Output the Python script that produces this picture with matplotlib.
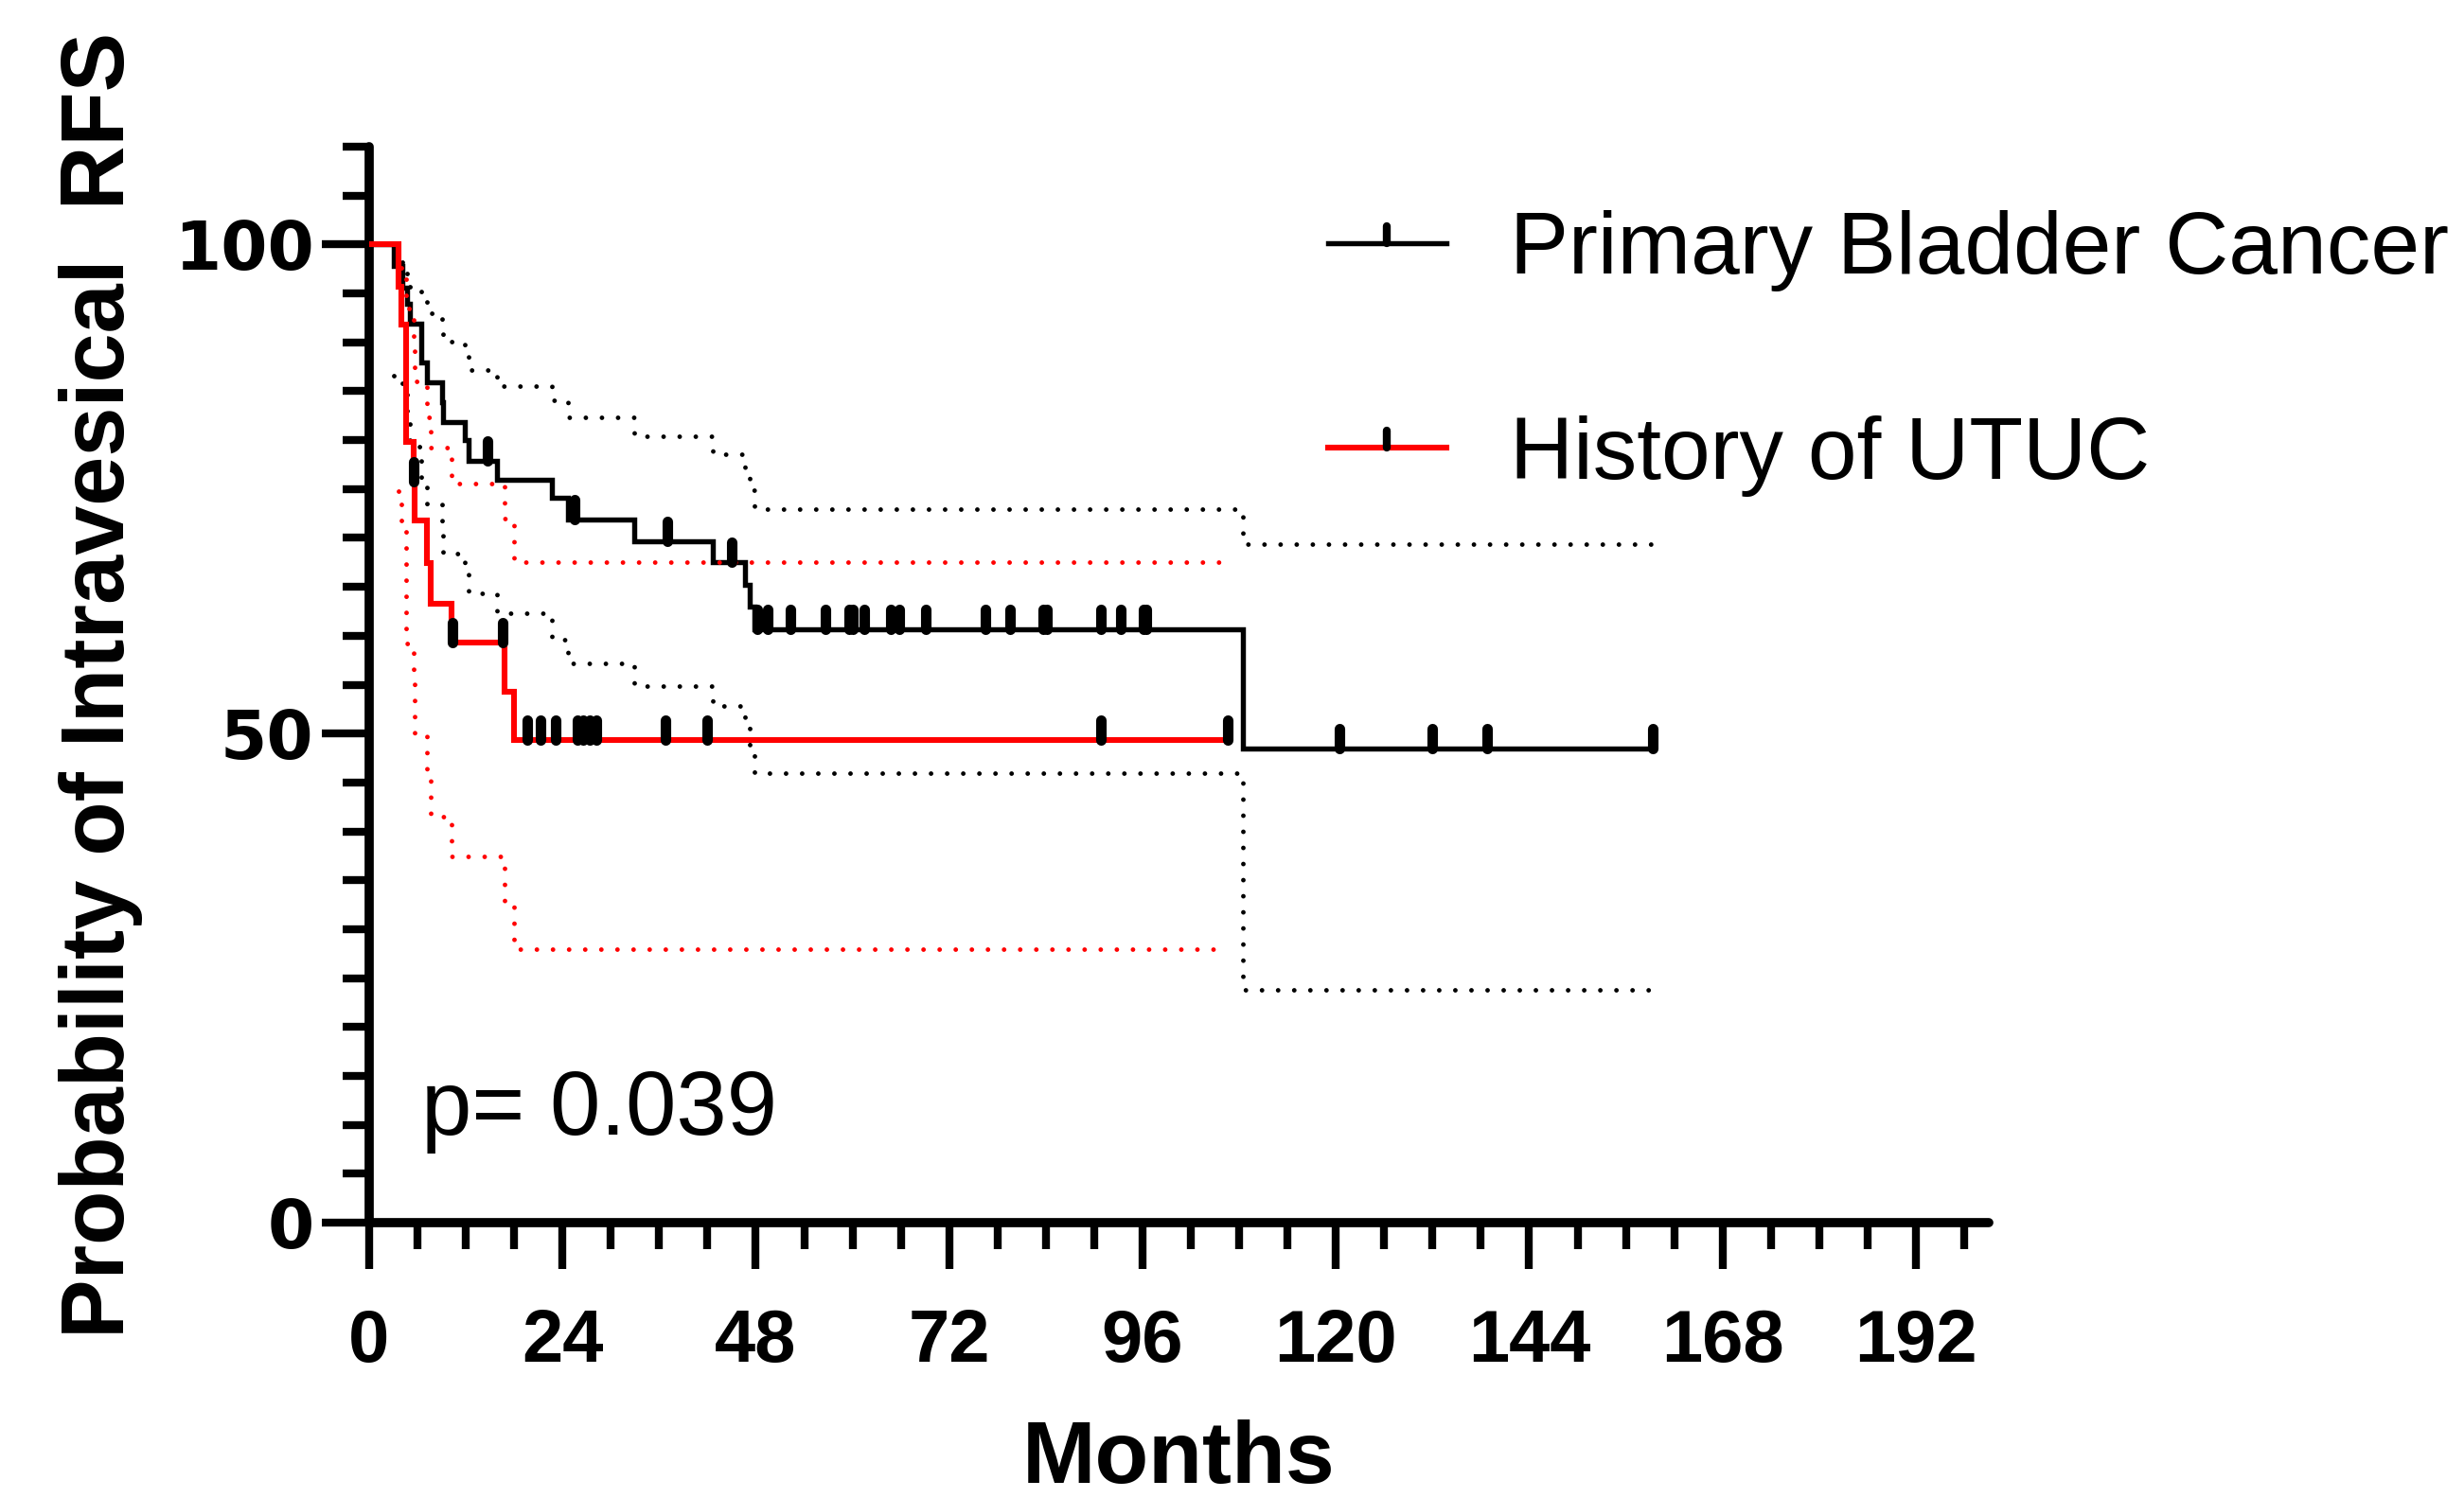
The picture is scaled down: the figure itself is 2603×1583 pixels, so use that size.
import numpy as np
import matplotlib
matplotlib.use("Agg")
import matplotlib.pyplot as plt
from matplotlib.path import Path
from matplotlib.markers import MarkerStyle
from matplotlib.lines import Line2D
from matplotlib.ticker import MultipleLocator

plt.rcParams['font.family'] = ['Liberation Sans', 'DejaVu Sans']

# ---- data (months, percent) ----
group_labels = ["Primary Bladder Cancer", "History of UTUC"]

# Primary bladder cancer (black)
pbc_t = [0, 3.1, 4.1, 4.7, 5.1, 6.5, 7.2, 9.0, 9.2, 11.9, 12.3, 15.9,
         22.7, 24.7, 32.9, 42.7, 46.6, 47.2, 47.8, 108.4]
pbc_s = [100, 97.8, 95.6, 93.9, 91.9, 87.9, 85.9, 83.9, 81.8, 80.0, 77.9, 75.9,
         74.1, 71.9, 69.7, 67.5, 65.2, 63.0, 60.7, 48.5]
pbc_end = 159.3
pbc_ci_t = [3.1, 4.1, 4.7, 5.1, 6.5, 7.2, 9.0, 9.2, 11.9, 12.3, 15.9,
            22.7, 24.7, 32.9, 42.7, 46.6, 47.2, 47.8, 108.4]
pbc_upper = [99.0, 97.9, 96.8, 95.7, 94.4, 93.0, 91.5, 90.1, 88.7, 87.2, 85.5,
             84.1, 82.3, 80.4, 78.6, 76.9, 74.9, 72.9, 69.4]
pbc_lower = [86.6, 85.5, 82.8, 79.3, 76.0, 73.4, 71.4, 68.4, 67.2, 64.3, 62.3,
             59.6, 57.2, 54.9, 52.8, 51.1, 48.4, 46.0, 23.8]
pbc_cens_t = [14.7, 25.5, 37.0, 45.0,
              48.2, 49.5, 52.3, 56.7, 59.6, 60.1, 61.5, 64.8, 65.8, 69.1,
              76.5, 79.5, 83.7, 84.1, 90.8, 93.3, 96.1, 96.5,
              120.4, 132.0, 138.8, 159.3]
pbc_cens_s = [77.9, 71.9, 69.7, 67.5,
              60.7, 60.7, 60.7, 60.7, 60.7, 60.7, 60.7, 60.7, 60.7, 60.7,
              60.7, 60.7, 60.7, 60.7, 60.7, 60.7, 60.7, 60.7,
              48.5, 48.5, 48.5, 48.5]

# History of UTUC (red)
utuc_t = [0, 3.7, 4.0, 4.6, 5.5, 5.6, 7.2, 7.6, 10.2, 16.8, 18.0]
utuc_s = [100, 95.7, 91.8, 79.8, 75.8, 71.8, 67.4, 63.3, 59.3, 54.3, 49.3]
utuc_end = 106.6
utuc_ci_t = [3.7, 4.0, 4.6, 5.5, 5.6, 7.2, 7.6, 10.2, 16.8, 18.0]
utuc_upper = [99.0, 96.7, 93.5, 89.2, 86.0, 82.3, 79.2, 75.6, 72.0, 67.5]
utuc_lower = [74.8, 71.8, 59.2, 56.4, 50.0, 45.5, 41.5, 37.4, 32.6, 28.0]
utuc_cens_t = [5.5, 10.3, 16.6, 19.6, 21.3, 23.1, 25.8, 26.6, 27.4, 28.2,
               36.8, 42.0, 90.8, 106.6]
utuc_cens_s = [75.8, 59.3, 59.3, 49.3, 49.3, 49.3, 49.3, 49.3, 49.3, 49.3,
               49.3, 49.3, 49.3, 49.3]

p_text = "p= 0.039"


def ext(t, s, end):
    return np.append(t, end), np.append(s, s[-1])


fig = plt.figure(figsize=(26.03, 15.83), dpi=100)
ax = fig.add_axes([0.1498, 0.1838, 0.6572, 0.7183])

# censor tick marker: vertical stroke rising from the curve
tick_marker = MarkerStyle(Path([(0, 0), (0, 1)]), capstyle='round')
dot = (0, (0.001, 3.5))

# confidence bands
for lvl in (pbc_upper, pbc_lower):
    x, y = ext(pbc_ci_t, lvl, pbc_end)
    ax.plot(x, y, drawstyle='steps-post', color='black', lw=3.5,
            linestyle=dot, dash_capstyle='round', zorder=2)

x, y = ext(pbc_t, pbc_s, pbc_end)
ax.plot(x, y, drawstyle='steps-post', color='black', lw=3.9, zorder=3,
        solid_joinstyle='miter')

x, y = ext(utuc_t, utuc_s, utuc_end)
ax.plot(x, y, drawstyle='steps-post', color='#ff0000', lw=4.4, zorder=4,
        solid_joinstyle='miter')

for lvl in (utuc_upper, utuc_lower):
    x, y = ext(utuc_ci_t, lvl, utuc_end)
    ax.plot(x, y, drawstyle='steps-post', color='#ff0000', lw=3.5,
            linestyle=dot, dash_capstyle='round', zorder=5)

# censored observations
ax.plot(pbc_cens_t, pbc_cens_s, linestyle='none', marker=tick_marker,
        ms=30, mew=8, mec='black', zorder=6)
ax.plot(utuc_cens_t, utuc_cens_s, linestyle='none', marker=tick_marker,
        ms=30, mew=8, mec='black', zorder=6)

ax.text(6.5, 9.0, p_text, fontsize=69, va='baseline', ha='left')

# axes styling
ax.set_xlim(0, 201)
ax.set_ylim(0, 110)
ax.xaxis.set_major_locator(MultipleLocator(24))
ax.xaxis.set_minor_locator(MultipleLocator(6))
ax.yaxis.set_major_locator(MultipleLocator(50))
ax.yaxis.set_minor_locator(MultipleLocator(5))
for side in ('top', 'right'):
    ax.spines[side].set_visible(False)
for side in ('left', 'bottom'):
    ax.spines[side].set_linewidth(7)
    ax.spines[side].set_capstyle('round')

ax.tick_params(axis='both', which='both', direction='out', width=6)
ax.tick_params(axis='x', which='major', length=35, pad=30)
ax.tick_params(axis='x', which='minor', length=20)
ax.tick_params(axis='y', which='major', length=36, pad=6)
ax.tick_params(axis='y', which='minor', length=20)
for lab in ax.get_xticklabels():
    lab.set_fontsize(56)
    lab.set_fontweight('bold')
for lab in ax.get_yticklabels():
    lab.set_fontsize(51)
    lab.set_fontweight('bold')
    lab.set_family('DejaVu Sans')

ax.set_xlabel("Months", fontsize=67, fontweight='bold')
ax.xaxis.set_label_coords(0.5, -0.1825)
ax.set_ylabel("Probability of Intravesical  RFS", fontsize=67.5, fontweight='bold')
ax.yaxis.set_label_coords(-0.1395, 0.5)

handles = [
    Line2D([], [], color='black', lw=3.9, marker=tick_marker, ms=26, mew=6, mec='black'),
    Line2D([], [], color='#ff0000', lw=4.4, marker=tick_marker, ms=26, mew=6, mec='black'),
]
fig.legend(handles, group_labels, loc='upper left', bbox_to_anchor=(0.539, 0.8595),
           bbox_transform=fig.transFigure, frameon=False, fontsize=67,
           borderpad=0, borderaxespad=0, handlelength=1.34, handletextpad=0.72,
           labelspacing=1.4, numpoints=1)

fig.savefig("out.png", dpi=100)
